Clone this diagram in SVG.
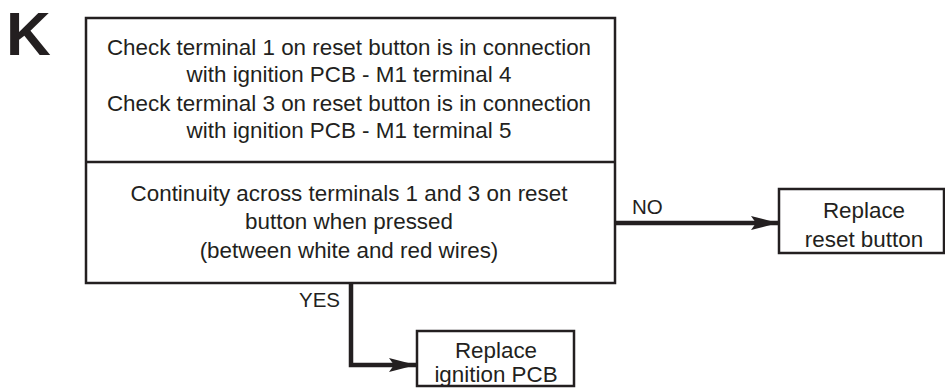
<svg xmlns="http://www.w3.org/2000/svg" width="945" height="388" viewBox="0 0 945 388">
<style>
.box{fill:#fff;stroke:#231f20;stroke-width:2.5}
.t{font-family:"Liberation Sans",Arial,sans-serif;font-size:22.4px;fill:#231f20;text-anchor:middle}
.lbl{font-family:"Liberation Sans",Arial,sans-serif;font-size:20.5px;fill:#231f20}
.con{fill:none;stroke:#231f20;stroke-width:4.5}
</style>
<defs>
<marker id="ah" markerUnits="userSpaceOnUse" markerWidth="28" markerHeight="16" refX="27" refY="8" orient="auto">
<path d="M0,1 L27,8 L0,15 L5,8 Z" fill="#231f20"/>
</marker>
</defs>
<text x="6" y="55" style="font-family:'Liberation Sans',Arial,sans-serif;font-size:62px;font-weight:bold;fill:#231f20">K</text>
<g id="check">
<rect class="box" x="86" y="18" width="529" height="265"/>
<line x1="86" y1="162" x2="615" y2="162" stroke="#231f20" stroke-width="2.5"/>
<text class="t" x="349" y="55">Check terminal 1 on reset button is in connection</text>
<text class="t" x="349" y="82">with ignition PCB - M1 terminal 4</text>
<text class="t" x="349" y="111">Check terminal 3 on reset button is in connection</text>
<text class="t" x="349" y="138">with ignition PCB - M1 terminal 5</text>
<text class="t" x="349" y="201">Continuity across terminals 1 and 3 on reset</text>
<text class="t" x="349" y="229">button when pressed</text>
<text class="t" x="349" y="258">(between white and red wires)</text>
</g>
<g id="reset">
<rect class="box" x="779" y="189" width="165" height="64"/>
<text class="t" x="864" y="218">Replace</text>
<text class="t" x="864" y="247">reset button</text>
</g>
<g id="pcb">
<rect class="box" x="417" y="331" width="157" height="55"/>
<text class="t" x="496" y="358">Replace</text>
<text class="t" x="496" y="382">ignition PCB</text>
</g>
<g id="connectors">
<line class="con" x1="615" y1="223" x2="778" y2="223" marker-end="url(#ah)"/>
<polyline class="con" points="351,283 351,365 416,365" marker-end="url(#ah)"/>
<text class="lbl" x="632" y="214">NO</text>
<text class="lbl" x="340" y="307" text-anchor="end">YES</text>
</g>
</svg>
